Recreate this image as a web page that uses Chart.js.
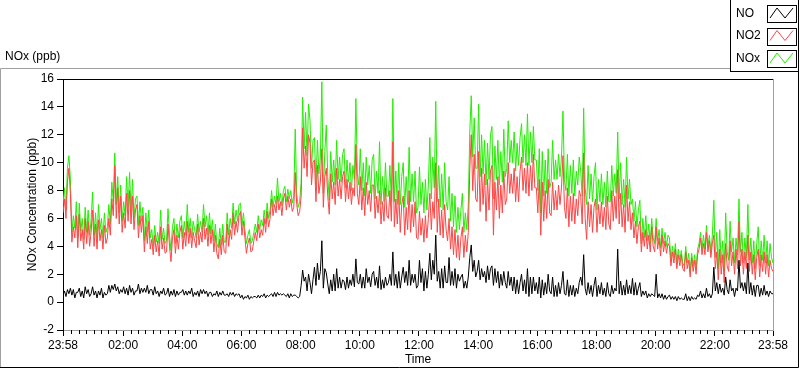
<!DOCTYPE html>
<html>
<head>
<meta charset="utf-8">
<title>NOx (ppb)</title>
<script src="https://cdn.jsdelivr.net/npm/chart.js@4.4.1/dist/chart.umd.min.js"></script>
<style>
  html, body { margin: 0; padding: 0; background: #fff; }
  #wrap { width: 800px; height: 369px; position: relative; }
</style>
</head>
<body>
<div id="wrap"><canvas id="noxchart"></canvas></div>
<script>
// one reading every 3 minutes, starting 23:58 (one line = half an hour)
const stepMinutes = 3;

const noValues = [
  0.5, 0.8, 0.4, 0.9, 0.6, 1.0, 0.5, 0.9, 0.3, 0.7,
  0.7, 1.0, 0.4, 0.8, 0.3, 1.1, 0.6, 0.9, 0.4, 0.6,
  1.1, 0.5, 0.8, 0.3, 0.8, 0.5, 1.0, 0.3, 0.7, 0.5,
  0.6, 1.2, 0.7, 1.2, 0.9, 1.3, 0.8, 1.1, 0.6, 0.9,
  0.7, 1.1, 0.6, 1.0, 0.5, 1.2, 0.7, 1.0, 0.5, 0.8,
  0.8, 1.3, 0.6, 1.0, 0.7, 1.0, 0.7, 1.2, 0.6, 0.9,
  0.9, 0.5, 1.1, 0.6, 0.8, 0.4, 0.8, 0.6, 1.0, 0.5,
  0.6, 1.0, 0.4, 0.8, 0.5, 0.9, 0.4, 0.8, 0.5, 0.7,
  0.7, 0.9, 0.5, 0.8, 0.5, 0.8, 0.6, 1.0, 0.4, 0.7,
  0.5, 0.8, 0.4, 0.9, 0.6, 0.9, 0.6, 0.8, 0.4, 0.7,
  0.7, 0.4, 0.6, 0.5, 0.8, 0.4, 0.7, 0.5, 0.8, 0.5,
  0.5, 0.6, 0.4, 0.7, 0.5, 0.7, 0.4, 0.6, 0.5, 0.6,
  0.3, 0.5, 0.2, 0.4, 0.3, 0.5, 0.2, 0.4, 0.3, 0.4,
  0.4, 0.3, 0.5, 0.3, 0.5, 0.4, 0.6, 0.3, 0.5, 0.4,
  0.5, 0.6, 0.4, 0.7, 0.4, 0.7, 0.5, 0.6, 0.5, 0.6,
  0.5, 0.4, 0.6, 0.3, 0.6, 0.4, 0.5, 0.5, 0.4, 0.3,
  0.4, 1.2, 2.3, 1.5, 1.8, 0.8, 2.0, 1.4, 0.6, 1.6,
  2.5, 1.2, 2.8, 1.6, 2.2, 4.4, 1.0, 2.4, 2.1, 1.3,
  0.6, 1.6, 0.8, 2.0, 0.8, 2.4, 1.0, 1.8, 1.0, 1.6,
  1.5, 0.9, 1.8, 1.0, 1.6, 1.2, 2.0, 1.1, 3.1, 1.4,
  1.3, 2.0, 1.0, 1.8, 1.0, 2.4, 1.4, 1.8, 1.1, 2.0,
  2.2, 1.2, 1.8, 1.0, 2.6, 0.9, 1.6, 1.0, 1.8, 1.2,
  1.4, 2.0, 1.2, 3.6, 1.2, 2.0, 1.0, 2.2, 1.0, 1.8,
  2.5, 1.4, 2.2, 1.2, 3.0, 1.2, 2.0, 1.4, 2.0, 1.0,
  1.2, 3.0, 1.4, 2.4, 0.8, 2.2, 1.0, 2.0, 3.5, 1.6,
  3.0, 2.0, 4.8, 1.5, 2.2, 1.0, 2.4, 1.0, 2.6, 1.4,
  1.4, 3.2, 1.2, 2.2, 1.2, 2.4, 1.0, 2.0, 1.5, 1.8,
  2.0, 1.0, 1.5, 1.0, 1.8, 3.2, 4.1, 2.2, 3.0, 1.8,
  2.2, 3.0, 1.6, 2.4, 1.8, 2.2, 1.4, 2.6, 1.6, 2.4,
  2.6, 1.2, 2.4, 1.4, 2.2, 1.0, 2.0, 1.2, 2.2, 1.4,
  1.0, 2.2, 1.2, 1.8, 0.8, 1.8, 0.6, 1.6, 0.6, 1.4,
  2.0, 0.8, 1.6, 0.6, 2.4, 0.4, 1.8, 0.6, 1.8, 0.8,
  1.4, 0.6, 1.8, 0.3, 1.6, 0.5, 1.4, 0.6, 2.0, 0.8,
  0.6, 1.8, 0.4, 1.2, 0.4, 1.4, 0.6, 1.2, 2.2, 0.6,
  0.5, 1.6, 0.4, 1.2, 0.5, 1.2, 0.4, 1.0, 0.6, 1.4,
  1.8, 1.2, 3.4, 1.0, 0.5, 1.4, 0.6, 1.2, 0.4, 1.2,
  1.8, 0.4, 1.2, 0.6, 1.4, 0.5, 1.0, 0.4, 1.4, 0.6,
  0.4, 1.2, 0.6, 1.0, 0.8, 3.8, 0.6, 1.5, 0.5, 1.2,
  0.5, 1.6, 0.6, 1.2, 0.6, 1.7, 0.5, 1.4, 0.5, 1.0,
  1.4, 0.4, 0.8, 0.5, 0.8, 0.3, 0.6, 0.4, 0.6, 0.5,
  0.4, 2.0, 0.3, 0.6, 0.3, 0.6, 0.2, 0.5, 0.2, 0.4,
  0.5, 0.2, 0.4, 0.2, 0.4, 0.1, 0.4, 0.2, 0.3, 0.2,
  0.2, 0.6, 0.1, 0.4, 0.1, 0.4, 0.2, 0.3, 0.2, 0.5,
  0.4, 0.8, 0.3, 0.6, 0.3, 1.0, 0.4, 0.6, 0.3, 0.6,
  2.5, 0.8, 1.4, 0.6, 1.3, 0.7, 1.0, 0.5, 1.8, 0.9,
  0.6, 1.6, 0.8, 1.0, 0.4, 1.0, 0.8, 3.0, 1.0, 1.4,
  0.8, 1.4, 0.6, 2.8, 0.6, 1.4, 0.5, 1.2, 0.4, 1.2,
  1.2, 0.4, 1.0, 0.5, 1.2, 0.5, 0.8, 0.4, 0.8, 0.6,
  0.6
];

const no2Values = [
  6.4, 7.4, 6.0, 8.6, 9.6, 7.8, 4.3, 5.4, 4.6, 6.2,
  3.9, 6.3, 4.4, 5.2, 3.8, 6.0, 4.2, 5.8, 4.0, 5.0,
  6.6, 4.0, 5.6, 3.8, 5.9, 4.4, 5.2, 3.8, 5.5, 4.2,
  4.6, 6.0, 4.8, 7.4, 6.2, 9.8, 6.0, 8.2, 5.6, 7.6,
  5.0, 6.4, 5.3, 7.8, 5.8, 8.0, 5.6, 7.6, 5.2, 6.6,
  7.0, 4.6, 6.2, 5.0, 6.2, 3.6, 5.4, 4.2, 5.8, 3.8,
  4.5, 3.4, 4.8, 3.6, 4.4, 3.3, 5.4, 3.8, 4.6, 3.5,
  3.6, 5.6, 4.0, 2.9, 4.6, 5.2, 3.5, 4.8, 3.8, 5.0,
  5.5, 3.8, 5.0, 4.0, 5.8, 4.2, 5.3, 3.9, 5.0, 4.4,
  3.9, 5.6, 4.1, 5.0, 4.3, 6.0, 4.5, 5.3, 4.0, 5.5,
  4.2, 5.2, 3.6, 4.8, 3.5, 3.1, 4.5, 3.4, 4.8, 3.6,
  3.5, 5.6, 4.0, 5.2, 4.5, 6.4, 4.8, 5.8, 5.0, 6.2,
  6.5, 4.8, 5.8, 4.6, 3.5, 4.2, 4.6, 3.6, 3.7, 4.4,
  5.0, 4.4, 5.6, 4.6, 5.2, 4.8, 6.0, 5.0, 6.5, 5.4,
  6.0, 7.4, 6.2, 7.0, 6.4, 7.6, 6.6, 7.2, 6.2, 7.4,
  7.8, 6.6, 7.6, 6.8, 7.4, 6.5, 6.8, 9.3, 7.0, 6.2,
  6.5, 7.6, 12.5, 9.6, 11.2, 9.0, 12.0, 11.4, 8.4, 10.0,
  10.2, 7.2, 9.8, 7.8, 8.6, 11.0, 6.8, 9.0, 9.6, 7.6,
  6.3, 9.2, 7.4, 8.6, 7.0, 9.6, 7.6, 8.8, 7.4, 9.0,
  9.4, 7.2, 8.8, 7.4, 8.6, 7.0, 8.2, 7.6, 11.3, 7.8,
  7.0, 9.0, 6.6, 8.2, 6.2, 8.6, 7.0, 8.0, 6.5, 8.4,
  8.4, 6.0, 7.6, 6.4, 8.0, 5.6, 7.2, 5.8, 8.2, 6.2,
  6.0, 8.0, 5.8, 11.5, 5.4, 7.4, 5.6, 8.0, 5.0, 7.0,
  7.6, 4.8, 6.8, 5.2, 8.0, 5.0, 7.0, 5.4, 7.2, 4.6,
  4.5, 6.5, 4.8, 6.0, 4.3, 6.2, 4.6, 6.0, 7.8, 5.2,
  7.2, 6.0, 10.0, 5.0, 7.4, 4.8, 6.6, 4.6, 7.0, 5.2,
  4.4, 6.0, 3.8, 5.4, 3.4, 5.2, 3.2, 4.8, 3.0, 4.6,
  5.4, 3.2, 4.8, 3.6, 5.0, 9.5, 12.0, 8.0, 10.6, 7.4,
  7.2, 10.8, 6.5, 9.6, 7.0, 9.2, 5.8, 8.8, 6.6, 9.4,
  9.8, 4.8, 8.6, 6.6, 9.0, 6.0, 8.4, 6.4, 9.4, 7.0,
  7.4, 10.0, 7.8, 9.2, 7.8, 9.6, 7.2, 9.0, 7.2, 9.4,
  10.4, 8.0, 9.6, 7.8, 10.0, 7.6, 9.8, 8.0, 10.6, 8.2,
  8.2, 6.4, 8.8, 4.8, 8.6, 5.8, 8.0, 6.0, 8.8, 6.4,
  6.2, 8.6, 6.6, 8.0, 6.6, 8.4, 7.0, 8.2, 10.5, 6.8,
  6.0, 8.2, 5.4, 7.6, 5.8, 7.8, 5.6, 7.4, 6.2, 8.0,
  7.6, 5.6, 10.7, 6.0, 4.5, 7.2, 5.4, 7.0, 5.0, 6.8,
  7.4, 5.0, 7.0, 5.6, 7.2, 5.4, 6.8, 5.2, 7.6, 5.6,
  5.2, 8.0, 5.8, 7.6, 6.0, 9.5, 5.6, 7.8, 5.4, 7.0,
  5.0, 8.4, 5.8, 7.2, 5.2, 6.4, 4.6, 5.8, 4.2, 5.4,
  5.8, 3.6, 5.0, 4.0, 5.2, 3.8, 4.8, 3.6, 5.4, 4.0,
  3.6, 5.4, 3.8, 4.6, 3.3, 4.8, 3.6, 4.4, 3.5, 4.2,
  4.0, 2.6, 3.6, 2.8, 3.8, 2.4, 3.4, 2.6, 3.4, 2.4,
  2.2, 3.6, 2.4, 3.0, 1.8, 3.2, 2.2, 3.0, 2.0, 3.4,
  3.8, 4.6, 3.4, 4.2, 3.4, 5.0, 3.6, 4.4, 3.2, 4.2,
  4.8, 2.4, 3.6, 1.6, 3.8, 2.0, 3.4, 1.4, 4.2, 2.6,
  2.2, 4.4, 2.6, 3.6, 2.0, 3.8, 2.4, 5.8, 2.6, 3.8,
  2.0, 3.6, 2.4, 4.8, 2.2, 3.6, 2.0, 3.4, 1.6, 3.2,
  3.8, 1.8, 3.4, 2.2, 3.6, 2.0, 3.4, 1.8, 3.0, 2.4,
  2.2
];

const noxValues = [
  7.0, 8.2, 6.6, 9.6, 10.5, 8.8, 5.0, 6.2, 5.3, 7.2,
  4.6, 7.1, 5.1, 6.0, 4.5, 6.8, 5.0, 6.6, 4.8, 5.9,
  7.9, 4.8, 6.4, 4.6, 7.0, 5.2, 6.0, 4.6, 6.4, 5.0,
  5.4, 7.0, 5.6, 8.6, 7.2, 10.7, 7.0, 9.0, 6.4, 8.4,
  5.8, 7.2, 6.2, 9.0, 6.8, 9.3, 6.5, 8.8, 6.0, 7.4,
  7.6, 5.5, 7.2, 5.8, 6.8, 4.4, 6.4, 5.0, 6.6, 4.6,
  5.2, 4.0, 5.5, 4.3, 5.0, 4.2, 6.6, 4.5, 5.3, 4.2,
  4.4, 6.7, 4.8, 3.7, 5.4, 6.0, 4.2, 5.6, 4.6, 5.8,
  6.2, 4.6, 5.8, 4.8, 7.0, 5.0, 6.0, 4.6, 5.8, 5.2,
  4.6, 6.3, 5.0, 5.8, 5.0, 7.0, 5.4, 6.2, 4.8, 6.4,
  4.9, 5.9, 4.4, 5.6, 4.2, 3.9, 5.3, 4.1, 5.6, 4.3,
  4.3, 6.4, 4.8, 6.0, 5.3, 7.1, 5.6, 6.6, 5.8, 7.0,
  7.1, 5.5, 6.4, 5.2, 4.2, 4.8, 5.2, 4.2, 4.4, 5.0,
  5.6, 5.0, 6.2, 5.2, 5.9, 5.5, 6.6, 5.6, 7.1, 6.0,
  6.6, 8.0, 6.8, 7.6, 7.0, 8.9, 7.2, 7.8, 6.9, 8.0,
  8.3, 7.2, 8.1, 7.4, 8.0, 7.1, 7.6, 12.4, 7.8, 6.8,
  7.2, 8.6, 14.7, 11.0, 13.6, 10.5, 14.2, 13.0, 9.6, 11.6,
  11.8, 8.4, 11.6, 9.2, 10.4, 15.8, 7.8, 10.8, 12.7, 9.0,
  7.3, 10.8, 8.6, 10.2, 8.4, 11.6, 8.8, 10.4, 8.6, 10.6,
  11.0, 8.2, 10.2, 8.6, 10.0, 8.0, 9.8, 8.8, 14.6, 9.2,
  8.4, 11.0, 8.0, 10.0, 7.6, 10.4, 8.4, 9.8, 7.8, 10.2,
  10.6, 7.4, 9.4, 7.8, 11.5, 7.0, 9.0, 7.2, 10.0, 7.6,
  7.6, 9.8, 7.2, 14.6, 7.2, 9.4, 7.0, 10.0, 7.0, 9.0,
  10.0, 6.8, 9.0, 7.0, 11.1, 7.2, 9.2, 7.2, 9.4, 6.4,
  6.8, 9.7, 7.0, 8.6, 6.4, 8.8, 6.6, 8.4, 11.8, 7.4,
  10.4, 8.2, 14.4, 7.2, 9.8, 6.8, 9.2, 6.6, 10.0, 7.2,
  6.6, 9.0, 5.8, 7.8, 5.4, 7.6, 5.0, 6.8, 5.2, 6.6,
  7.8, 5.0, 6.4, 5.2, 7.0, 12.2, 14.8, 10.4, 13.2, 9.6,
  9.6, 14.2, 9.0, 12.0, 9.2, 11.6, 8.4, 11.4, 8.8, 12.0,
  12.6, 7.4, 11.2, 8.8, 11.6, 8.4, 10.8, 8.6, 12.4, 9.0,
  9.6, 13.0, 10.0, 11.6, 10.0, 12.2, 9.4, 11.4, 9.8, 11.8,
  12.8, 10.0, 12.0, 9.8, 13.5, 9.8, 12.2, 10.0, 12.6, 10.2,
  10.2, 8.0, 11.0, 6.4, 10.8, 7.6, 10.2, 7.8, 11.0, 8.2,
  8.6, 11.6, 8.8, 10.2, 8.8, 10.6, 9.0, 10.4, 13.7, 8.8,
  8.0, 10.6, 7.6, 9.8, 7.8, 10.2, 7.6, 9.4, 8.4, 10.4,
  9.4, 7.6, 13.9, 8.2, 7.0, 9.8, 7.4, 9.2, 7.2, 9.0,
  10.0, 6.6, 8.8, 7.2, 9.2, 7.0, 8.6, 6.8, 9.4, 7.2,
  7.2, 9.8, 7.6, 9.2, 7.8, 12.2, 7.4, 10.0, 7.0, 8.8,
  6.8, 10.4, 7.4, 8.8, 7.0, 7.4, 5.8, 7.2, 5.4, 6.6,
  7.3, 4.2, 6.0, 4.6, 6.2, 4.4, 5.6, 4.2, 6.0, 4.6,
  4.2, 6.0, 4.4, 5.2, 3.9, 5.3, 4.2, 5.0, 4.0, 4.8,
  4.6, 3.0, 4.0, 3.2, 4.2, 2.8, 3.8, 3.0, 3.7, 2.8,
  2.6, 4.0, 2.8, 3.5, 2.2, 3.5, 2.6, 3.4, 2.4, 3.8,
  4.2, 5.0, 3.8, 4.8, 3.8, 5.5, 4.0, 4.8, 3.6, 4.8,
  7.3, 3.2, 5.0, 2.4, 5.2, 2.8, 4.4, 2.2, 6.4, 3.6,
  3.0, 5.8, 3.6, 4.6, 2.8, 4.6, 3.4, 7.4, 3.6, 5.0,
  2.8, 4.6, 3.2, 7.0, 3.0, 4.6, 2.8, 4.4, 2.4, 4.2,
  5.4, 2.6, 4.4, 3.0, 4.8, 2.8, 4.4, 2.6, 4.2, 3.2,
  2.8
];

const yTickValues = [-2, 0, 2, 4, 6, 8, 10, 12, 14, 16];
const xTickMinutes = [0, 122, 242, 362, 482, 602, 722, 842, 962, 1082, 1202, 1322, 1440];
const xTickLabels = ['23:58', '02:00', '04:00', '06:00', '08:00', '10:00', '12:00',
                     '14:00', '16:00', '18:00', '20:00', '22:00', '23:58'];

const seriesNames = ['NO', 'NO2', 'NOx'];
const seriesColors = ['#000000', '#ff4444', '#22ee00'];

const FONT = "'Liberation Sans', Arial, sans-serif";

function toPoints(values) {
  return values.map(function (v, i) { return { x: i * stepMinutes, y: v }; });
}

// frame, top/right plot border, minor ticks, titles and the legend box
const panelDecor = {
  id: 'panelDecor',
  afterDraw(chart) {
    const ctx = chart.ctx;
    const a = chart.chartArea;
    const xs = chart.scales.x;
    ctx.save();
    ctx.lineWidth = 1;

    // outer panel
    ctx.strokeStyle = '#a0a0a0';
    ctx.beginPath();
    ctx.moveTo(0.5, 367); ctx.lineTo(0.5, 68.5); ctx.lineTo(730, 68.5);
    ctx.stroke();
    ctx.strokeStyle = '#000';
    ctx.beginPath();
    ctx.moveTo(0, 367.5); ctx.lineTo(798.5, 367.5); ctx.lineTo(798.5, 68);
    ctx.stroke();

    // plot border top and right
    ctx.beginPath();
    ctx.moveTo(a.left, a.top + 0.5); ctx.lineTo(a.right, a.top + 0.5);
    ctx.stroke();
    ctx.strokeStyle = '#a0a0a0';
    ctx.beginPath();
    ctx.moveTo(a.right + 0.5, a.top); ctx.lineTo(a.right + 0.5, a.bottom);
    ctx.stroke();

    // minor ticks every 15 minutes
    ctx.strokeStyle = '#000';
    ctx.beginPath();
    for (let clock = 0; clock < 1440; clock += 15) {
      if (clock % 120 === 0) continue;
      const px = Math.round(xs.getPixelForValue(clock + 2)) + 0.5;
      ctx.moveTo(px, a.bottom);
      ctx.lineTo(px, a.bottom + 4);
    }
    ctx.stroke();

    // texts
    ctx.fillStyle = '#000';
    ctx.font = '12px ' + FONT;
    ctx.textBaseline = 'middle';
    ctx.textAlign = 'left';
    ctx.fillText('NOx (ppb)', 5, 57);
    ctx.textAlign = 'center';
    ctx.fillText('Time', (a.left + a.right) / 2, 360);
    ctx.save();
    ctx.translate(33, (a.top + a.bottom) / 2);
    ctx.rotate(-Math.PI / 2);
    ctx.fillText('NOx Concentration (ppb)', 0, 0);
    ctx.restore();

    // legend box
    ctx.fillStyle = '#fff';
    ctx.fillRect(730, 0, 69, 72);
    ctx.strokeStyle = '#000';
    ctx.strokeRect(730.5, -1, 68, 72.5);
    chart.data.datasets.forEach(function (ds, i) {
      const top = 5 + i * 22.5;
      ctx.fillStyle = '#000';
      ctx.textAlign = 'left';
      ctx.fillText(ds.label, 736, top + 8.5);
      ctx.strokeStyle = '#000';
      ctx.strokeRect(767.5, Math.round(top) + 0.5, 29, 17);
      ctx.strokeStyle = ds.borderColor;
      ctx.beginPath();
      ctx.moveTo(770, top + 13);
      ctx.lineTo(777, top + 3);
      ctx.lineTo(785, top + 13);
      ctx.lineTo(793, top + 3);
      ctx.stroke();
    });
    ctx.restore();
  }
};

const ctxNox = document.getElementById('noxchart');

new Chart(ctxNox, {
  type: 'line',
  data: {
    datasets: [
      { label: seriesNames[0], data: toPoints(noValues), borderColor: seriesColors[0] },
      { label: seriesNames[1], data: toPoints(no2Values), borderColor: seriesColors[1] },
      { label: seriesNames[2], data: toPoints(noxValues), borderColor: seriesColors[2] }
    ]
  },
  options: {
    responsive: true,
    maintainAspectRatio: false,
    animation: false,
    layout: { padding: { left: 0, top: 79, right: 27, bottom: 0 } },
    elements: {
      line: { borderWidth: 1, tension: 0 },
      point: { radius: 0 }
    },
    plugins: {
      legend: { display: false },
      tooltip: { enabled: false }
    },
    scales: {
      x: {
        type: 'linear',
        min: 0,
        max: 1440,
        afterBuildTicks: function (scale) {
          scale.ticks = xTickMinutes.map(function (v) { return { value: v }; });
        },
        afterFit: function (scale) { scale.height = 39; },
        border: { color: '#a0a0a0' },
        grid: { drawOnChartArea: false, color: '#000', tickLength: 6 },
        ticks: {
          autoSkip: false,
          maxRotation: 0,
          padding: 2,
          color: '#000',
          font: { family: FONT, size: 12 },
          callback: function (v, i) { return xTickLabels[i]; }
        }
      },
      y: {
        min: -2,
        max: 16,
        afterBuildTicks: function (scale) {
          scale.ticks = yTickValues.map(function (v) { return { value: v }; });
        },
        afterFit: function (scale) { scale.width = 63; },
        border: { color: '#000' },
        grid: { drawOnChartArea: false, color: '#000', tickLength: 6 },
        ticks: {
          padding: 3,
          color: '#000',
          font: { family: FONT, size: 12 }
        }
      }
    }
  },
  plugins: [panelDecor]
});
</script>
</body>
</html>
